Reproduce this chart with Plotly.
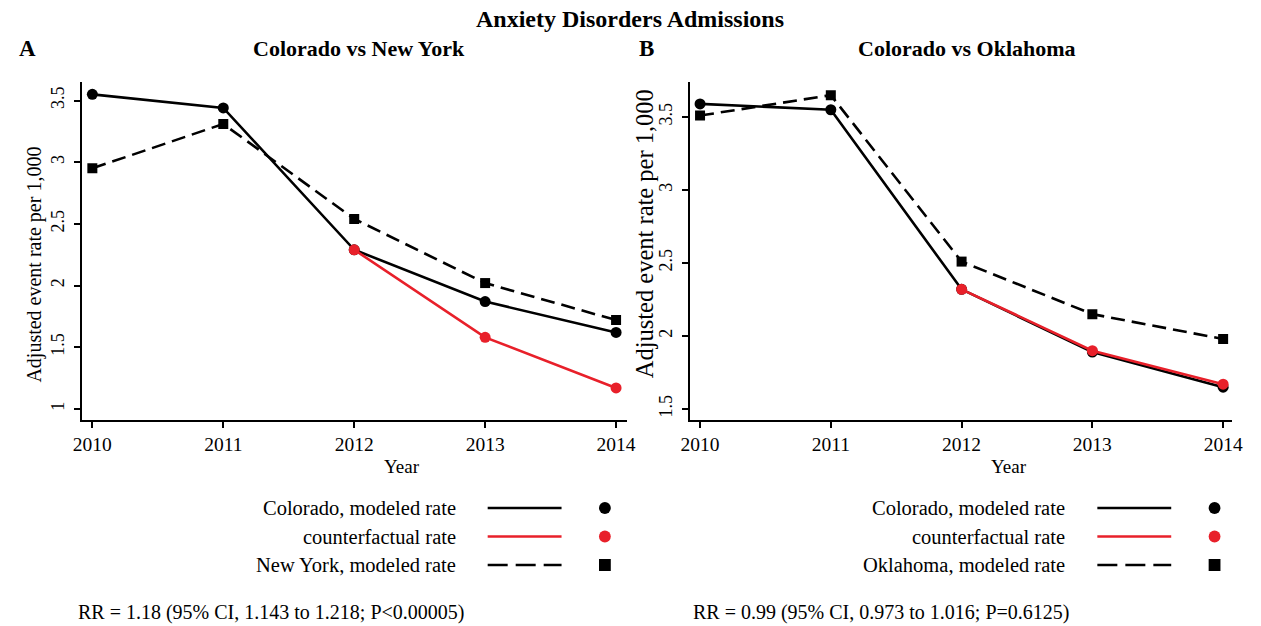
import plotly.graph_objects as go

# Data
years = [2010, 2011, 2012, 2013, 2014]

# Panel A: Colorado vs New York
co_a = [3.55, 3.44, 2.29, 1.87, 1.62]
cf_a = [None, None, 2.29, 1.58, 1.17]
ny_a = [2.95, 3.31, 2.54, 2.02, 1.72]

# Panel B: Colorado vs Oklahoma
co_b = [3.59, 3.55, 2.32, 1.89, 1.65]
cf_b = [None, None, 2.32, 1.90, 1.67]
ok_b = [3.51, 3.65, 2.51, 2.15, 1.98]

ticks_a = [1, 1.5, 2, 2.5, 3, 3.5]
ticks_b = [1.5, 2, 2.5, 3, 3.5]

W, H = 1261, 626
FONT = "Liberation Serif, Times New Roman, serif"
RED = "#e8202a"
BLACK = "#000000"
DASH = "14px,7px"


def px(x):
    return x / W


def py(y):
    return 1 - y / H


fig = go.Figure()


def add_panel(xa, ya, co, cf, other, other_name):
    fig.add_trace(go.Scatter(x=years, y=other, mode="lines+markers", name=other_name,
                             line=dict(color=BLACK, width=2.6, dash=DASH),
                             marker=dict(symbol="square", size=10, color=BLACK),
                             xaxis=xa, yaxis=ya, showlegend=False))
    fig.add_trace(go.Scatter(x=years, y=co, mode="lines+markers", name="Colorado, modeled rate",
                             line=dict(color=BLACK, width=2.6),
                             marker=dict(symbol="circle", size=11, color=BLACK),
                             xaxis=xa, yaxis=ya, showlegend=False))
    fig.add_trace(go.Scatter(x=years, y=cf, mode="lines+markers", name="counterfactual rate",
                             line=dict(color=RED, width=2.6),
                             marker=dict(symbol="circle", size=11, color=RED),
                             xaxis=xa, yaxis=ya, showlegend=False))


add_panel("x", "y", co_a, cf_a, ny_a, "New York, modeled rate")
add_panel("x2", "y2", co_b, cf_b, ok_b, "Oklahoma, modeled rate")

line_common = dict(showline=True, linecolor=BLACK, linewidth=2, ticks="outside",
                   ticklen=6, tickwidth=2, tickcolor=BLACK, showgrid=False, zeroline=False)
xtick_font = dict(family=FONT, size=19.5, color=BLACK)
ytick_font = dict(family=FONT, size=18, color=BLACK)

y_dom = [py(420), py(82)]
fig.update_layout(
    xaxis=dict(domain=[px(74), px(627)], range=[2009.92, 2014.08], tickvals=years,
               anchor="y", tickfont=xtick_font, **line_common),
    yaxis=dict(domain=y_dom, range=[0.91, 3.65], tickvals=ticks_a,
               ticktext=[f"{v:g}" for v in ticks_a], tickangle=-90, anchor="x",
               tickfont=ytick_font, ticklabelstandoff=3, **line_common),
    xaxis2=dict(domain=[px(691), px(1242)], range=[2009.92, 2014.07], tickvals=years,
                anchor="y2", tickfont=xtick_font, **line_common),
    yaxis2=dict(domain=y_dom, range=[1.425, 3.74], tickvals=ticks_b,
                ticktext=[f"{v:g}" for v in ticks_b], tickangle=-90, anchor="x2",
                tickfont=ytick_font, ticklabelstandoff=2, **line_common),
)

annotations = []


def text(x, y, s, size=18, bold=False, xanchor="center", angle=0):
    annotations.append(dict(x=px(x), y=py(y), xref="paper", yref="paper",
                            text=f"<b>{s}</b>" if bold else s, showarrow=False,
                            xanchor=xanchor, yanchor="middle", textangle=angle,
                            borderpad=0,
                            font=dict(family=FONT, size=size, color=BLACK)))


text(630, 19, "Anxiety Disorders Admissions", size=24, bold=True)
text(19, 48, "A", size=23, bold=True)
text(647, 48, "B", size=23, bold=True)
text(355, 48, "Colorado vs New York", size=22, bold=True)
text(973, 48, "Colorado vs Oklahoma", size=22, bold=True)

# axis titles
text(25, 265, "Adjusted event rate per 1,000", size=20, angle=-90)
text(645, 234, "Adjusted event rate per 1,000", size=24.5, angle=-90)
text(399, 466, "Year", size=19)
text(1015, 466, "Year", size=19)

shapes = []


def legend_block(text_right, line_x0, line_x1, mark_x, other_name):
    rows = [("Colorado, modeled rate", BLACK, "solid", "circle"),
            ("counterfactual rate", RED, "solid", "circle"),
            (other_name, BLACK, "20px,8px", "square")]
    for i, (label, color, dash, sym) in enumerate(rows):
        y = 508 + i * 28.5
        text(text_right, y, label, size=20.5, xanchor="right")
        shapes.append(dict(type="line", xref="paper", yref="paper",
                           x0=px(line_x0), x1=px(line_x1), y0=py(y), y1=py(y),
                           line=dict(color=color, width=2.6, dash=dash)))
        r = 6
        shapes.append(dict(type="circle" if sym == "circle" else "rect",
                           xref="paper", yref="paper",
                           x0=px(mark_x - r), x1=px(mark_x + r),
                           y0=py(y + r), y1=py(y - r),
                           fillcolor=color, line=dict(color=color, width=0)))


legend_block(455, 486, 561, 605, "New York, modeled rate")
legend_block(1073, 1105, 1180, 1224, "Oklahoma, modeled rate")

text(69, 612, "RR = 1.18 (95% CI, 1.143 to 1.218; P<0.00005)", size=20, xanchor="left")
text(693, 612, "RR = 0.99 (95% CI, 0.973 to 1.016; P=0.6125)", size=20, xanchor="left")

fig.update_layout(
    width=W, height=H,
    margin=dict(l=0, r=0, t=0, b=0),
    paper_bgcolor="white", plot_bgcolor="white",
    annotations=annotations, shapes=shapes,
    showlegend=False,
)

fig.write_html("out.html")
